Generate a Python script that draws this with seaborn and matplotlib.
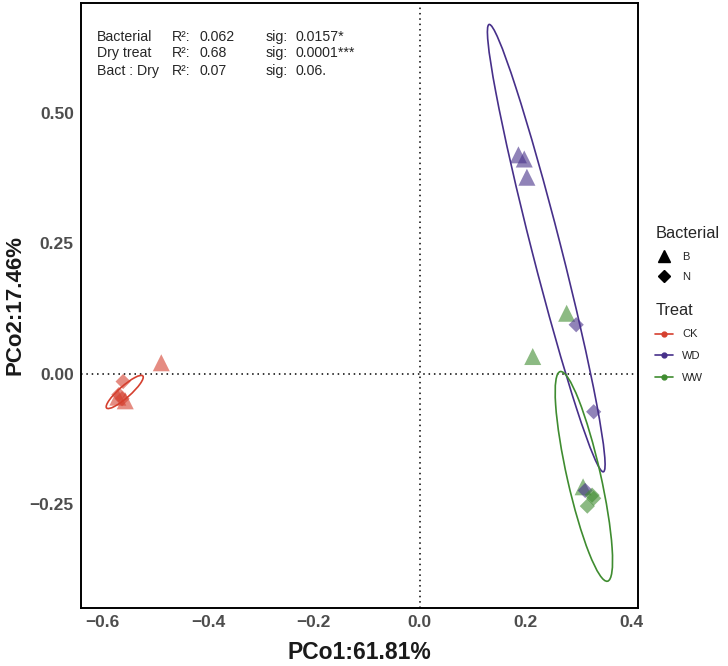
import numpy as np
import pandas as pd
import seaborn as sns
import matplotlib.pyplot as plt
from matplotlib.patches import Ellipse
from matplotlib.lines import Line2D
from matplotlib.ticker import FuncFormatter

# Points
treat = ["CK"] * 6 + ["WD"] * 6 + ["WW"] * 6
bacterial = ["B", "B", "B", "N", "N", "N"] * 3
pco1 = [-0.488, -0.570, -0.556, -0.560, -0.568, -0.562,
        0.186, 0.197, 0.202, 0.295, 0.328, 0.312,
        0.277, 0.213, 0.308, 0.325, 0.328, 0.316]
pco2 = [0.021, -0.045, -0.052, -0.015, -0.040, -0.048,
        0.420, 0.412, 0.377, 0.094, -0.073, -0.224,
        0.116, 0.033, -0.217, -0.233, -0.239, -0.254]

# Ellipses (95% confidence) per treatment
ell_group = ["CK", "WD", "WW"]
ell_cx = [-0.557, 0.2385, 0.3095]
ell_cy = [-0.035, 0.241, -0.197]
ell_major = [0.092, 0.885, 0.412]
ell_minor = [0.022, 0.055, 0.063]
ell_angle = [42, -75.9, -77.5]

# PERMANOVA text
stat_terms = ["Bacterial", "Dry treat", "Bact : Dry"]
stat_r2 = ["0.062", "0.68", "0.07"]
stat_sig = ["0.0157*", "0.0001***", "0.06."]

palette = {"CK": "#D5402F", "WD": "#47308A", "WW": "#3F8C30"}
markers = {"B": "^", "N": "D"}

df = pd.DataFrame({"PCo1": pco1, "PCo2": pco2, "Treat": treat, "Bacterial": bacterial})

sns.set_style("white")
plt.rcParams["font.family"] = ["Liberation Sans", "DejaVu Sans"]

fig = plt.figure(figsize=(7.28, 6.66), dpi=100)
ax = fig.add_axes([0.1109, 0.0875, 0.765, 0.9085])

ax.axhline(0, color="black", linestyle=(0, (1, 2.5)), linewidth=1.1, zorder=1)
ax.axvline(0, color="black", linestyle=(0, (1, 2.5)), linewidth=1.1, zorder=1)

sns.scatterplot(data=df[df.Bacterial == "B"], x="PCo1", y="PCo2", hue="Treat",
                palette=palette, marker="^", s=150, alpha=0.6, linewidth=0,
                legend=False, ax=ax, zorder=3)
sns.scatterplot(data=df[df.Bacterial == "N"], x="PCo1", y="PCo2", hue="Treat",
                palette=palette, marker="D", s=60, alpha=0.6, linewidth=0,
                legend=False, ax=ax, zorder=3)

for g, cx, cy, w, h, a in zip(ell_group, ell_cx, ell_cy, ell_major, ell_minor, ell_angle):
    ax.add_patch(Ellipse((cx, cy), w, h, angle=a, fill=False,
                         edgecolor=palette[g], linewidth=1.2, zorder=2))

ax.set_xlim(-0.640, 0.411)
ax.set_ylim(-0.449, 0.712)
ax.set_xticks([-0.6, -0.4, -0.2, 0.0, 0.2, 0.4])
ax.set_yticks([-0.25, 0.0, 0.25, 0.50])
ax.xaxis.set_major_formatter(FuncFormatter(lambda v, p: f"{v:.1f}".replace("-", "\u2212")))
ax.yaxis.set_major_formatter(FuncFormatter(lambda v, p: f"{v:.2f}".replace("-", "\u2212")))
ax.tick_params(axis="both", direction="out", length=3, width=0.8, color="#333333",
               labelsize=12.5, labelcolor="#4D4D4D", pad=2)
for lab in ax.get_xticklabels() + ax.get_yticklabels():
    lab.set_fontweight("bold")
for sp in ax.spines.values():
    sp.set_color("black")
    sp.set_linewidth(1.4)

ax.set_xlabel("PCo1:61.81%", fontsize=16.5, fontweight="bold", color="#1A1A1A", labelpad=8)
ax.set_ylabel("PCo2:17.46%", fontsize=16, fontweight="bold", color="#1A1A1A", labelpad=3)

# stats annotation
row_y = [0.944, 0.916, 0.887]
for term, r2, sig, yy in zip(stat_terms, stat_r2, stat_sig, row_y):
    ax.text(0.029, yy, term, transform=ax.transAxes, fontsize=10.2, va="center")
    ax.text(0.1645, yy, "R²:", transform=ax.transAxes, fontsize=10.2, va="center")
    ax.text(0.214, yy, r2, transform=ax.transAxes, fontsize=10.2, va="center")
    ax.text(0.331, yy, "sig:", transform=ax.transAxes, fontsize=10.2, va="center")
    ax.text(0.385, yy, sig, transform=ax.transAxes, fontsize=10.2, va="center")

# legends
bact_handles = [Line2D([], [], color="black", marker=markers[b], linestyle="",
                       markersize=8 if b == "B" else 6) for b in ["B", "N"]]
leg1 = fig.legend(bact_handles, ["B", "N"], title="Bacterial", loc="upper left",
                  bbox_to_anchor=(0.894, 0.667), frameon=False, fontsize=8,
                  title_fontsize=11.8, handlelength=1.6, labelspacing=0.95,
                  alignment="left", borderaxespad=0)
treat_handles = [Line2D([], [], color=palette[t], marker="o", markersize=3.5,
                        linewidth=1.2) for t in ["CK", "WD", "WW"]]
leg2 = fig.legend(treat_handles, ["CK", "WD", "WW"], title="Treat", loc="upper left",
                  bbox_to_anchor=(0.894, 0.552), frameon=False, fontsize=8,
                  title_fontsize=11.8, handlelength=1.6, labelspacing=1.05,
                  alignment="left", borderaxespad=0)

fig.savefig("out.png", dpi=100)
